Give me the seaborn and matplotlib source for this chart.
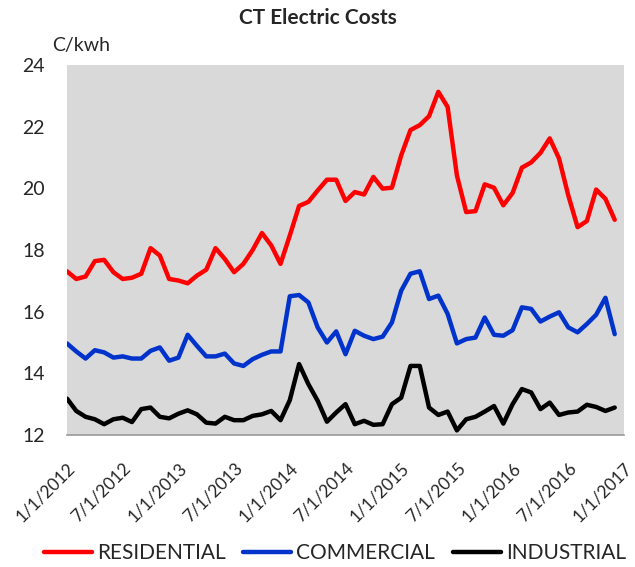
import numpy as np
import pandas as pd
import matplotlib
matplotlib.use("Agg")
import matplotlib.pyplot as plt
import seaborn as sns

months = pd.date_range("2012-01-01", "2016-12-01", freq="MS")
residential = [17.31, 17.06, 17.14, 17.64, 17.68, 17.28, 17.06, 17.10, 17.23, 18.06,
               17.82, 17.06, 17.01, 16.92, 17.17, 17.36, 18.06, 17.71, 17.28, 17.55,
               18.00, 18.55, 18.15, 17.55, 18.47, 19.43, 19.56, 19.93, 20.28, 20.28,
               19.59, 19.88, 19.80, 20.37, 19.99, 20.02, 21.07, 21.89, 22.05, 22.34,
               23.13, 22.64, 20.42, 19.23, 19.26, 20.13, 20.02, 19.45, 19.85, 20.67,
               20.84, 21.15, 21.62, 20.97, 19.77, 18.74, 18.94, 19.96, 19.66, 18.98]
commercial = [14.97, 14.71, 14.48, 14.75, 14.68, 14.51, 14.55, 14.48, 14.48, 14.73,
              14.84, 14.41, 14.51, 15.25, 14.89, 14.55, 14.55, 14.64, 14.32, 14.24,
              14.46, 14.60, 14.71, 14.71, 16.50, 16.54, 16.30, 15.49, 15.00, 15.36,
              14.62, 15.38, 15.22, 15.11, 15.19, 15.65, 16.68, 17.23, 17.31, 16.41,
              16.52, 15.93, 14.97, 15.11, 15.16, 15.81, 15.25, 15.22, 15.40, 16.14,
              16.09, 15.68, 15.84, 15.98, 15.49, 15.33, 15.60, 15.90, 16.45, 15.27]
industrial = [13.18, 12.78, 12.59, 12.51, 12.35, 12.51, 12.56, 12.42, 12.84, 12.89,
              12.59, 12.54, 12.69, 12.80, 12.67, 12.40, 12.37, 12.59, 12.48, 12.48,
              12.62, 12.67, 12.78, 12.48, 13.13, 14.30, 13.65, 13.11, 12.43, 12.73,
              13.00, 12.35, 12.46, 12.33, 12.35, 13.00, 13.21, 14.24, 14.24, 12.89,
              12.65, 12.76, 12.15, 12.51, 12.59, 12.76, 12.94, 12.37, 13.00, 13.49,
              13.38, 12.84, 13.05, 12.65, 12.73, 12.76, 12.98, 12.91, 12.78, 12.89]
series_names = ["RESIDENTIAL", "COMMERCIAL", "INDUSTRIAL"]
tick_labels = ["1/1/2012", "7/1/2012", "1/1/2013", "7/1/2013", "1/1/2014", "7/1/2014",
               "1/1/2015", "7/1/2015", "1/1/2016", "7/1/2016", "1/1/2017"]
y_ticks = [12, 14, 16, 18, 20, 22, 24]

idx = np.arange(len(months))
df = pd.DataFrame({
    "t": np.concatenate([idx, idx, idx]),
    "value": residential + commercial + industrial,
    "series": np.repeat(series_names, len(idx)),
})

sns.set_theme(style="white")
plt.rcParams["font.family"] = ["Lato", "DejaVu Sans"]

fig = plt.figure(figsize=(6.35, 5.67), dpi=100)
ax = fig.add_axes([67 / 635, 1 - 435 / 567, (624 - 67) / 635, (435 - 65) / 567])
palette = {"RESIDENTIAL": "#ff0000", "COMMERCIAL": "#0033cc", "INDUSTRIAL": "#000000"}
sns.lineplot(data=df, x="t", y="value", hue="series", palette=palette,
             linewidth=3.2, ax=ax, legend=True)

ax.set_facecolor("#d9d9d9")
ax.set_xlim(0, 60)
ax.set_ylim(12, 24)
ax.set_xticks(np.arange(0, 61, 6))
ax.set_xticklabels(tick_labels, rotation=45, ha="right", rotation_mode="anchor", fontsize=12.5)
ax.set_yticks(y_ticks)
ax.set_yticklabels([str(v) for v in y_ticks], fontsize=14)
ax.tick_params(axis="x", length=0, pad=18)
ax.tick_params(axis="y", length=0, pad=16)
ax.set_xlabel("")
ax.set_ylabel("")
for s in ["top", "right", "left"]:
    ax.spines[s].set_visible(False)
ax.spines["bottom"].set_color("#999999")
ax.spines["bottom"].set_linewidth(1.2)
ax.grid(False)

fig.text(0.5, 1 - 18 / 567, "CT Electric Costs", ha="center", va="center",
         fontsize=15, fontweight="bold")
fig.text(52 / 635, 1 - 45 / 567, "C/kwh", ha="left", va="center", fontsize=14)

handles, labels = ax.get_legend_handles_labels()
ax.legend_.remove()
fig.legend(handles, labels, loc="center", bbox_to_anchor=(335 / 635, 1 - 553 / 567),
           ncol=3, frameon=False, fontsize=15, handlelength=2.3, handletextpad=0.25,
           columnspacing=0.85)

fig.savefig("out.png", dpi=100)
